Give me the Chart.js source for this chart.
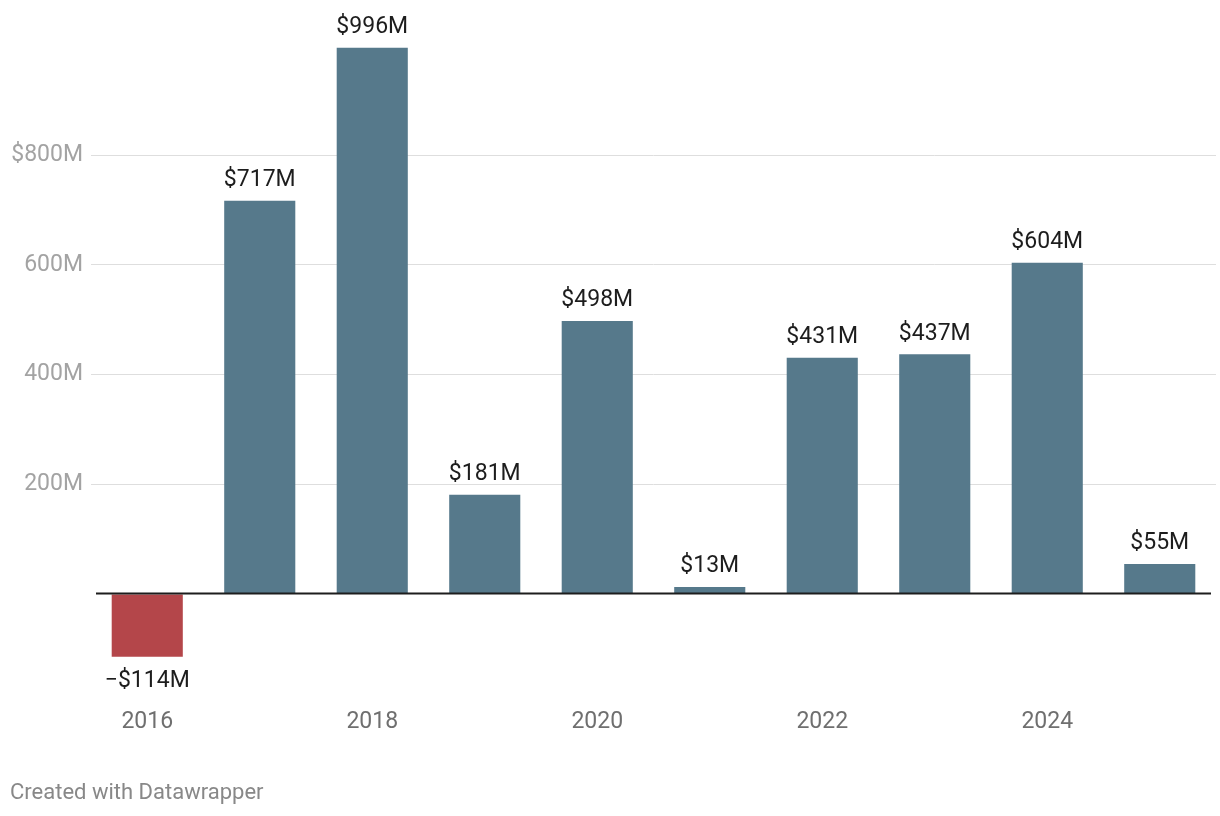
<!DOCTYPE html>
<html>
<head>
<meta charset="utf-8">
<script src="https://cdn.jsdelivr.net/npm/chart.js@4"></script>
<style>
  html, body { margin: 0; padding: 0; background: #ffffff; }
  canvas { display: block; }
</style>
</head>
<body>
<canvas id="chart" width="1220" height="816"></canvas>
<script>
// Données du graphique
const years = ['2016', '2017', '2018', '2019', '2020', '2021', '2022', '2023', '2024', '2025'];
const values = [-114, 717, 996, 181, 498, 13, 431, 437, 604, 55];
const yTicks = [0, 200, 400, 600, 800];

const colorPos = '#56798b';
const colorNeg = '#b4464a';
const fontFamily = 'Roboto, "Noto Sans", sans-serif';

function formatValue(v) {
    return (v < 0 ? '\u2212$' : '$') + Math.abs(v) + 'M';
}

// Etiquettes au-dessus / en dessous des barres, ligne zéro et pied de page
const labelsPlugin = {
    id: 'labelsPlugin',
    afterDatasetsDraw(chart) {
        const ctx = chart.ctx;
        const meta = chart.getDatasetMeta(0);
        const yScale = chart.scales.y;
        const area = chart.chartArea;

        // ligne zéro
        const y0 = Math.round(yScale.getPixelForValue(0));
        ctx.save();
        ctx.strokeStyle = '#1d1d1d';
        ctx.lineWidth = 2;
        ctx.beginPath();
        ctx.moveTo(area.left + 5, y0 - 0.5);
        ctx.lineTo(area.right - 5, y0 - 0.5);
        ctx.stroke();

        ctx.font = '23px ' + fontFamily;
        ctx.fillStyle = '#1d1d1d';
        ctx.textAlign = 'center';
        meta.data.forEach((bar, i) => {
            const v = values[i];
            if (v >= 0) {
                ctx.textBaseline = 'bottom';
                ctx.fillText(formatValue(v), bar.x, bar.y - 9);
            } else {
                ctx.textBaseline = 'top';
                ctx.fillText(formatValue(v), bar.x, bar.y + 13);
            }
        });

        ctx.font = '22px ' + fontFamily;
        ctx.fillStyle = '#888888';
        ctx.textAlign = 'left';
        ctx.textBaseline = 'middle';
        ctx.fillText('Created with Datawrapper', 10, 793);
        ctx.restore();
    }
};

const ctx = document.getElementById('chart').getContext('2d');
const myChart = new Chart(ctx, {
    type: 'bar',
    data: {
        labels: years,
        datasets: [{
            data: values,
            backgroundColor: values.map(v => v < 0 ? colorNeg : colorPos),
            categoryPercentage: 1,
            barPercentage: 0.632
        }]
    },
    options: {
        responsive: false,
        animation: false,
        events: [],
        layout: {
            padding: { left: 10, right: 4, top: 40, bottom: 0 }
        },
        plugins: {
            legend: { display: false },
            tooltip: { enabled: false }
        },
        scales: {
            x: {
                grid: { display: false, drawTicks: false },
                border: { display: false },
                ticks: {
                    autoSkip: false,
                    maxRotation: 0,
                    padding: 8,
                    color: '#6f6f6f',
                    font: { family: fontFamily, size: 23 },
                    callback: function(value, index) {
                        return index % 2 === 0 ? years[index] : '';
                    }
                },
                afterFit: function(scale) {
                    scale.height = 116;
                }
            },
            y: {
                min: -193,
                max: 1010,
                border: { display: false },
                grid: {
                    drawTicks: false,
                    lineWidth: 1,
                    color: function(c) {
                        return c.tick && c.tick.value === 0 ? 'rgba(0,0,0,0)' : '#dedede';
                    }
                },
                afterBuildTicks: function(scale) {
                    scale.ticks = yTicks.map(v => ({ value: v }));
                },
                ticks: {
                    padding: 8,
                    color: '#a3a3a3',
                    font: { family: fontFamily, size: 23 },
                    callback: function(value) {
                        if (value <= 0) return '';
                        return (value === 800 ? '$' : '') + value + 'M';
                    }
                },
                afterFit: function(scale) {
                    scale.width = 81;
                }
            }
        }
    },
    plugins: [labelsPlugin]
});
</script>
</body>
</html>
